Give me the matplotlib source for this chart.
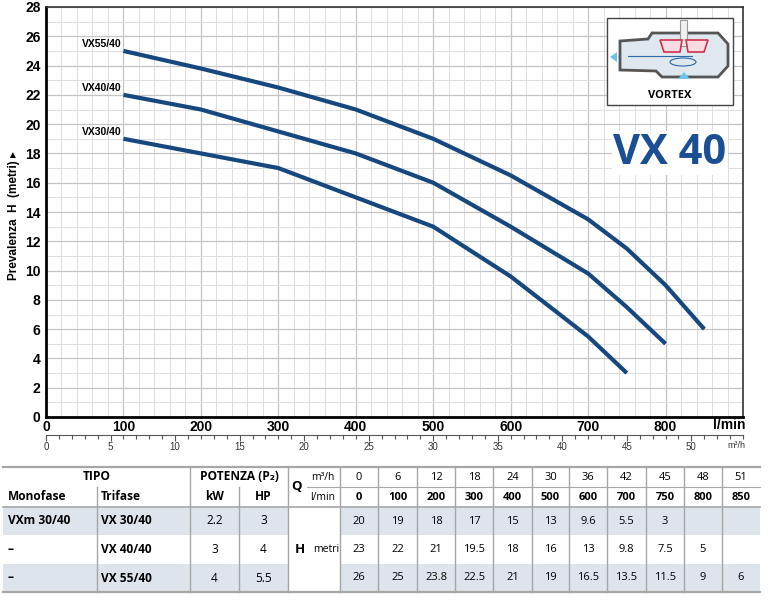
import matplotlib
matplotlib.use("Agg")
import matplotlib.pyplot as plt
from matplotlib.ticker import MultipleLocator
from matplotlib.patches import Rectangle, Polygon, Ellipse

# table / curve data
q_m3h = [0, 6, 12, 18, 24, 30, 36, 42, 45, 48, 51]
q_lmin = [0, 100, 200, 300, 400, 500, 600, 700, 750, 800, 850]
h_vx30 = [20, 19, 18, 17, 15, 13, 9.6, 5.5, 3, None, None]
h_vx40 = [23, 22, 21, 19.5, 18, 16, 13, 9.8, 7.5, 5, None]
h_vx55 = [26, 25, 23.8, 22.5, 21, 19, 16.5, 13.5, 11.5, 9, 6]

models_mono = ["VXm 30/40", "–", "–"]
models_tri = ["VX 30/40", "VX 40/40", "VX 55/40"]
power_kw = ["2.2", "3", "4"]
power_hp = ["3", "4", "5.5"]
curve_names = ["VX30/40", "VX40/40", "VX55/40"]

narrow = ["Liberation Sans", "DejaVu Sans"]
tfont = ["Open Sans", "DejaVu Sans"]
blue = "#16477f"

W, H = 768, 600
fig = plt.figure(figsize=(7.68, 6), dpi=100)

# ---- chart
ax = fig.add_axes([46 / W, 1 - 417 / H, (743 - 46) / W, 410 / H])
ax.set_xlim(0, 900)
ax.set_ylim(0, 28)
ax.xaxis.set_major_locator(MultipleLocator(100))
ax.xaxis.set_minor_locator(MultipleLocator(20))
ax.yaxis.set_major_locator(MultipleLocator(2))
ax.yaxis.set_minor_locator(MultipleLocator(1))
ax.grid(which="major", color="#c4c4c4", lw=0.9)
ax.grid(which="minor", color="#dedede", lw=0.7)
ax.set_axisbelow(True)
ax.set_xticks(range(0, 900, 100))
ax.tick_params(which="both", length=0)
ax.tick_params(axis="x", pad=2)
ax.tick_params(axis="y", pad=4)
for lab in ax.get_xticklabels() + ax.get_yticklabels():
    lab.set_fontweight("bold")
    lab.set_fontsize(10)
    lab.set_family(narrow)
for s in ["left", "bottom"]:
    ax.spines[s].set_linewidth(2)
    ax.spines[s].set_color("black")
for s in ["top", "right"]:
    ax.spines[s].set_linewidth(1.2)
    ax.spines[s].set_color("#333333")

for name, hv in zip(curve_names, [h_vx30, h_vx40, h_vx55]):
    qs = [q for q, h in zip(q_lmin[1:], hv[1:]) if h is not None]
    hs = [h for h in hv[1:] if h is not None]
    ax.plot(qs, hs, color=blue, lw=3.0, solid_capstyle="butt",
            solid_joinstyle="round", zorder=3)
    ax.text(qs[0] - 3, hs[0] + 0.15, name, ha="right", va="bottom",
            fontsize=7.5, fontweight="bold", family=narrow)

sec = ax.secondary_xaxis(-0.044, functions=(lambda q: q * 0.06, lambda m: m / 0.06))
sec.set_xticks(range(0, 55, 5))
sec.xaxis.set_minor_locator(MultipleLocator(1))
sec.tick_params(which="major", direction="out", length=4, width=0.8, color="#555555",
                labelsize=7, pad=1, labelcolor="#333333")
sec.tick_params(which="minor", direction="out", length=3, width=0.8, color="#555555")
sec.spines["bottom"].set_color("#555555")
sec.spines["bottom"].set_linewidth(0.8)
for lab in sec.get_xticklabels():
    lab.set_family(narrow)

fig.text(14 / W, 1 - 216 / H, "Prevalenza  H  (metri) ▸", rotation=90, ha="center",
         va="center", fontsize=8.5, fontweight="bold", family=narrow)

# ---- overlay in pixel coordinates
ov = fig.add_axes([0, 0, 1, 1])
ov.set_xlim(0, W)
ov.set_ylim(H, 0)
ov.axis("off")
ov.set_zorder(5)

ov.text(745, 425, "l/min", ha="right", va="center", fontsize=10, fontweight="bold", family=narrow)
ov.text(745, 446, "m³/h", ha="right", va="center", fontsize=6.5, family=narrow, color="#333333")

# vortex icon
ov.add_patch(Rectangle((607, 18), 126, 87, facecolor="white", edgecolor="#444444", lw=1))
ov.add_patch(Polygon([(620, 41), (648, 39), (652, 33), (718, 33), (728, 44), (728, 66),
                      (718, 77), (662, 77), (656, 71), (620, 70)],
                     closed=True, facecolor="#dfe7ef", edgecolor="#555555", lw=2))
ov.add_patch(Rectangle((680, 20), 7, 26, facecolor="#f0f0f0", edgecolor="#999999", lw=0.8))
ov.add_patch(Polygon([(660, 40), (682, 40), (680, 52), (664, 52)], closed=True,
                     facecolor="#f7dde3", edgecolor="#d12f4e", lw=1.2))
ov.add_patch(Polygon([(686, 40), (708, 40), (704, 52), (688, 52)], closed=True,
                     facecolor="#f7dde3", edgecolor="#d12f4e", lw=1.2))
ov.plot([628, 692], [56, 56], color="#2c6aa8", lw=0.8)
ov.add_patch(Ellipse((683, 62), 26, 8, facecolor="none", edgecolor="#2c6aa8", lw=0.8))
ov.add_patch(Polygon([(610, 57), (617, 52), (617, 62)], closed=True, facecolor="#6cc4ea", edgecolor="none"))
ov.add_patch(Polygon([(684, 72), (678, 79), (690, 79)], closed=True, facecolor="#6cc4ea", edgecolor="none"))
ov.text(670, 96, "VORTEX", ha="center", va="center", fontsize=8, fontweight="bold", family=tfont)

ov.text(670, 153, "VX 40", ha="center", va="center", fontsize=30, fontweight="bold",
        color="#1b4e93", family=tfont,
        bbox=dict(facecolor="white", edgecolor="none", pad=1))

# ---- table
cols = [3, 97, 190, 239, 288, 340, 378, 417, 455, 493, 532, 569, 607, 646, 684, 722, 760]
rows = [467, 487, 507, 535, 564, 592]
grey = "#dde4eb"
lc = "#a6a6a6"
fs = 8.6
fn = 8

for r in [0, 2]:
    y0, y1 = rows[2 + r], rows[3 + r]
    ov.add_patch(Rectangle((cols[0], y0), cols[4] - cols[0], y1 - y0, facecolor=grey, edgecolor="none"))
    ov.add_patch(Rectangle((cols[5], y0), cols[-1] - cols[5], y1 - y0, facecolor=grey, edgecolor="none"))

ov.plot([cols[0], cols[-1]], [rows[0], rows[0]], color=lc, lw=1.6)
ov.plot([cols[0], cols[-1]], [rows[2], rows[2]], color=lc, lw=1.2)
ov.plot([cols[0], cols[-1]], [rows[5], rows[5]], color=lc, lw=1.6)
ov.plot([307, cols[-1]], [rows[1], rows[1]], color=lc, lw=0.8)
for i, x in enumerate(cols[1:-1], start=1):
    ytop = rows[1] if i in (1, 3) else rows[0]
    ov.plot([x, x], [ytop, rows[5]], color=lc, lw=1.0)

ymid1 = (rows[0] + rows[1]) / 2
ymid2 = (rows[1] + rows[2]) / 2
ov.text((cols[0] + cols[2]) / 2, ymid1, "TIPO", ha="center", va="center", fontsize=fs, fontweight="bold", family=tfont)
ov.text((cols[2] + cols[4]) / 2, ymid1, "POTENZA (P₂)", ha="center", va="center", fontsize=fs, fontweight="bold", family=tfont)
ov.text(cols[0] + 5, ymid2, "Monofase", ha="left", va="center", fontsize=fs, fontweight="bold", family=tfont)
ov.text(cols[1] + 4, ymid2, "Trifase", ha="left", va="center", fontsize=fs, fontweight="bold", family=tfont)
ov.text((cols[2] + cols[3]) / 2, ymid2, "kW", ha="center", va="center", fontsize=fs, fontweight="bold", family=tfont)
ov.text((cols[3] + cols[4]) / 2, ymid2, "HP", ha="center", va="center", fontsize=fs, fontweight="bold", family=tfont)
ov.text(296, rows[1], "Q", ha="center", va="center", fontsize=9.5, fontweight="bold", family=tfont)
ov.text(323, ymid1, "m³/h", ha="center", va="center", fontsize=7.5, family=tfont)
ov.text(323, ymid2, "l/min", ha="center", va="center", fontsize=7.5, family=tfont)
ov.text(300, (rows[2] + rows[5]) / 2, "H", ha="center", va="center", fontsize=9.5, fontweight="bold", family=tfont)
ov.text(326, (rows[2] + rows[5]) / 2, "metri", ha="center", va="center", fontsize=7.5, family=tfont)

for j in range(len(q_m3h)):
    xc = (cols[5 + j] + cols[6 + j]) / 2
    ov.text(xc, ymid1, str(q_m3h[j]), ha="center", va="center", fontsize=fn, family=tfont)
    ov.text(xc, ymid2, str(q_lmin[j]), ha="center", va="center", fontsize=fn, fontweight="bold", family=tfont)

for i, hv in enumerate([h_vx30, h_vx40, h_vx55]):
    yc = (rows[2 + i] + rows[3 + i]) / 2
    ov.text(cols[0] + 5, yc, models_mono[i], ha="left", va="center", fontsize=fs, fontweight="bold", family=tfont)
    ov.text(cols[1] + 4, yc, models_tri[i], ha="left", va="center", fontsize=fs, fontweight="bold", family=tfont)
    ov.text((cols[2] + cols[3]) / 2, yc, power_kw[i], ha="center", va="center", fontsize=fs, family=tfont)
    ov.text((cols[3] + cols[4]) / 2, yc, power_hp[i], ha="center", va="center", fontsize=fs, family=tfont)
    for j, h in enumerate(hv):
        if h is None:
            continue
        xc = (cols[5 + j] + cols[6 + j]) / 2
        ov.text(xc, yc, f"{h:g}", ha="center", va="center", fontsize=fn, family=tfont)

fig.savefig("out.png", dpi=100)
